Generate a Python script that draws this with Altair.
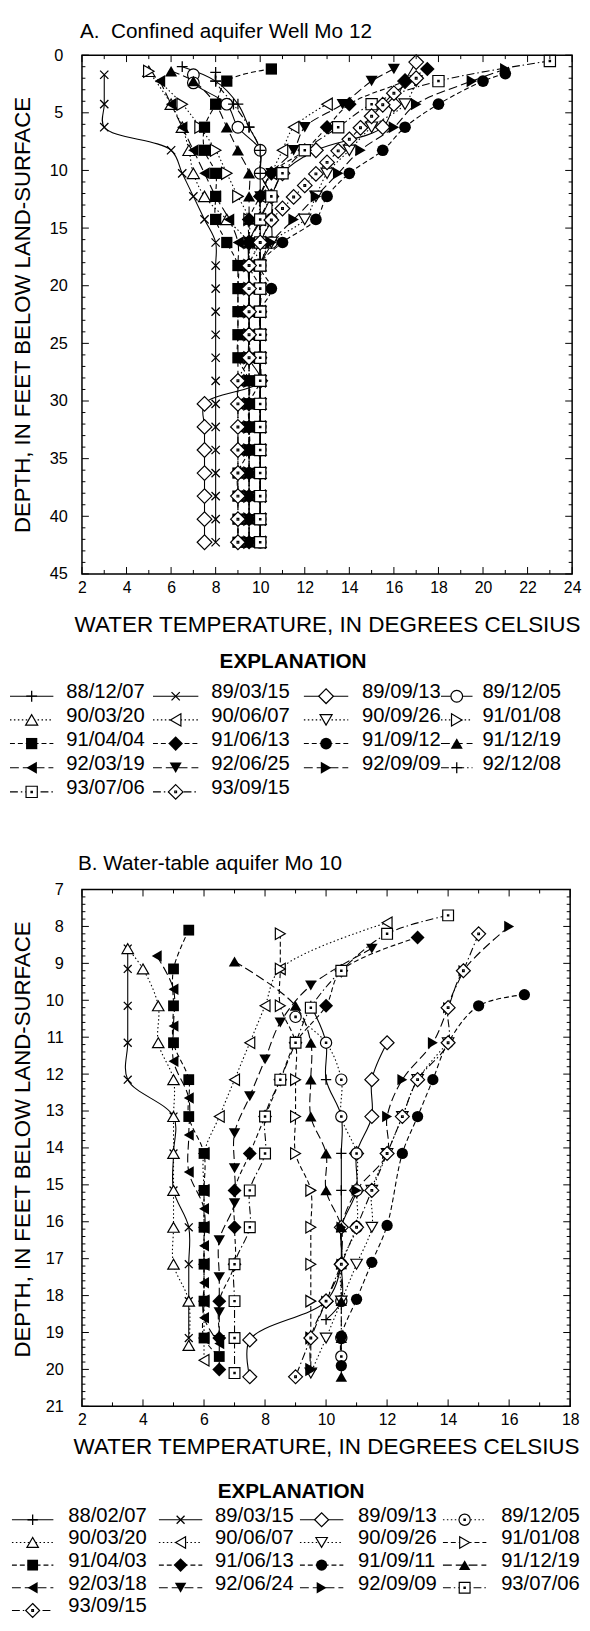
import altair as alt
import pandas as pd

FONT = "Liberation Sans"

# ===================== Panel A : Confined aquifer Well Mo 12 =====================
TITLE_A = "A.\u00a0 Confined aquifer Well Mo 12"
A_DEPTH_STD = [2.25, 4.25, 6.25, 8.25, 10.25, 12.25, 14.25, 16.25, 18.25, 20.25, 22.25,
               24.25, 26.25, 28.25, 30.25, 32.25, 34.25, 36.25, 38.25, 40.25, 42.25]

A_881207_d = [1.0] + A_DEPTH_STD
A_881207_t = [6.5, 8.0, 9.0, 9.5, 10.0, 10.0, 10.0, 10.0, 10.0, 10.0, 10.0,
              10.0, 10.0, 10.0, 10.0, 10.0, 10.0, 10.0, 10.0, 10.0, 10.0, 10.0]
A_890315_d = [1.7] + A_DEPTH_STD[1:]
A_890315_t = [3.0, 3.0, 3.0, 6.0, 6.5, 7.0, 7.5, 8.0, 8.0, 8.0, 8.0,
              8.0, 8.0, 8.0, 8.0, 8.0, 8.0, 8.0, 8.0, 8.0, 8.0]
A_890913_d = [0.6] + A_DEPTH_STD
A_890913_t = [17.0, 16.5, 16.0, 15.5, 12.5, 11.0, 10.5, 10.0, 9.5, 9.5, 9.5,
              9.5, 9.5, 9.5, 10.0, 7.5, 7.5, 7.5, 7.5, 7.5, 7.5, 7.5]
A_891205_d = [1.7, 2.4] + A_DEPTH_STD[1:]
A_891205_t = [7.0, 7.0, 8.5, 9.0, 10.0, 10.0, 10.5, 10.5, 10.5, 10.0, 10.0,
              10.0, 10.0, 10.0, 10.0, 10.0, 10.0, 10.0, 10.0, 10.0, 10.0, 10.0]
A_900320_d = [1.4] + A_DEPTH_STD[1:]
A_900320_t = [5.0, 6.0, 6.5, 6.8, 7.0, 7.5, 8.5, 9.5, 10.0, 10.0, 10.0,
              10.0, 10.0, 10.0, 10.0, 10.0, 10.0, 10.0, 10.0, 10.0, 10.0]
A_900607_d = A_DEPTH_STD[1:]
A_900607_t = [13.0, 11.5, 11.0, 10.5, 10.0, 10.0, 10.0, 10.0, 10.0, 10.0,
              10.0, 10.0, 10.0, 10.0, 10.0, 10.0, 10.0, 10.0, 10.0, 10.0]
A_900926_d = A_DEPTH_STD
A_900926_t = [17.0, 16.5, 15.0, 14.0, 13.0, 12.5, 12.0, 10.5, 10.0, 10.0, 10.0,
              10.0, 10.0, 10.0, 10.0, 10.0, 10.0, 10.0, 10.0, 10.0, 10.0]
A_910108_d = [1.4] + A_DEPTH_STD[1:]
A_910108_t = [5.0, 6.5, 7.3, 8.0, 8.5, 9.0, 9.5, 9.5, 9.5, 9.5, 9.5,
              9.5, 9.5, 9.5, 9.5, 9.5, 9.5, 9.5, 9.5, 9.5, 9.5]
A_910404_d = [1.2] + A_DEPTH_STD
A_910404_t = [10.5, 8.5, 8.0, 7.5, 7.5, 8.0, 8.0, 8.0, 8.5, 9.0, 9.0,
              9.0, 9.0, 9.0, 9.5, 9.5, 9.5, 9.5, 9.0, 9.0, 9.0, 9.0]
A_910613_d = [1.2] + A_DEPTH_STD
A_910613_t = [17.5, 16.5, 14.0, 13.0, 12.0, 10.5, 10.0, 9.5, 9.5, 9.5, 10.0,
              10.0, 10.0, 10.0, 10.0, 9.5, 9.5, 9.5, 9.5, 9.5, 9.5, 9.5]
A_910912_d = [1.6] + A_DEPTH_STD
A_910912_t = [21.0, 20.0, 18.0, 16.5, 15.5, 14.0, 13.0, 12.5, 11.0, 10.0, 10.5,
              10.0, 10.0, 10.0, 10.0, 10.0, 10.0, 10.0, 10.0, 10.0, 10.0, 10.0]
A_911219_d = [1.4] + A_DEPTH_STD
A_911219_t = [6.0, 7.0, 8.0, 8.5, 9.0, 9.5, 9.5, 9.5, 9.5, 9.5, 9.5,
              9.5, 9.5, 9.5, 9.5, 9.5, 9.5, 9.5, 9.5, 9.5, 9.5, 9.5]
A_920319_d = A_DEPTH_STD
A_920319_t = [5.5, 6.0, 6.5, 7.0, 7.5, 8.0, 8.6, 9.0, 9.0, 9.0, 9.0,
              9.0, 9.0, 9.0, 9.0, 9.0, 9.0, 9.0, 9.0, 9.0, 9.0]
A_920625_d = [1.2] + A_DEPTH_STD
A_920625_t = [16.0, 15.0, 13.7, 12.0, 11.5, 10.5, 10.0, 10.0, 9.5, 9.5, 9.5,
              9.5, 9.5, 9.5, 9.5, 9.5, 9.5, 9.5, 9.5, 9.5, 9.5, 9.5]
A_920909_d = [1.2] + A_DEPTH_STD
A_920909_t = [21.0, 19.5, 17.0, 16.0, 14.5, 13.5, 12.5, 11.5, 10.5, 10.0, 10.0,
              10.0, 10.0, 10.0, 10.0, 10.0, 10.0, 10.0, 10.0, 10.0, 10.0, 10.0]
A_921208_d = [1.5] + A_DEPTH_STD
A_921208_t = [8.0, 8.0, 8.8, 9.5, 10.0, 10.0, 10.5, 10.5, 10.0, 10.0, 10.0,
              10.0, 10.0, 10.0, 10.0, 10.0, 10.0, 10.0, 10.0, 10.0, 10.0, 10.0]
A_930706_d = [0.5] + A_DEPTH_STD
A_930706_t = [23.0, 18.0, 15.0, 13.5, 12.0, 11.0, 10.5, 10.0, 10.0, 10.0, 10.0,
              10.0, 10.0, 10.0, 10.0, 10.0, 10.0, 10.0, 10.0, 10.0, 10.0, 10.0]
A_930915_d = [2.0, 3.3, 4.3, 5.3, 6.3, 7.3, 8.3, 9.3, 10.3, 11.3, 12.3, 13.3, 14.3] + A_DEPTH_STD[7:]
A_930915_t = [17.0, 16.0, 15.5, 15.0, 14.5, 14.0, 13.5, 13.0, 12.5, 12.0, 11.5, 11.0, 10.5,
              10.0, 9.5, 9.5, 9.5, 9.5, 9.5, 9.0, 9.0, 9.0, 9.0, 9.0, 9.0, 9.0, 9.0]

A_LABELS = ["88/12/07", "89/03/15", "89/09/13", "89/12/05", "90/03/20", "90/06/07",
            "90/09/26", "91/01/08", "91/04/04", "91/06/13", "91/09/12", "91/12/19",
            "92/03/19", "92/06/25", "92/09/09", "92/12/08", "93/07/06", "93/09/15"]
A_SERIES = [(A_881207_d, A_881207_t), (A_890315_d, A_890315_t), (A_890913_d, A_890913_t),
            (A_891205_d, A_891205_t), (A_900320_d, A_900320_t), (A_900607_d, A_900607_t),
            (A_900926_d, A_900926_t), (A_910108_d, A_910108_t), (A_910404_d, A_910404_t),
            (A_910613_d, A_910613_t), (A_910912_d, A_910912_t), (A_911219_d, A_911219_t),
            (A_920319_d, A_920319_t), (A_920625_d, A_920625_t), (A_920909_d, A_920909_t),
            (A_921208_d, A_921208_t), (A_930706_d, A_930706_t), (A_930915_d, A_930915_t)]
A_SHAPES = ["plus", "x", "diamond", "circle", "tu", "tl", "td", "tr", "square", "diamond",
            "circle", "tu", "tl", "td", "tr", "plus", "sqdot", "dmdot"]
A_FILLS = ["none", "none", "white", "white", "white", "white", "white", "white", "black", "black",
           "black", "black", "black", "black", "black", "none", "white", "white"]
A_DASHES = ["solid", "solid", "solid", "solid", "dot", "dot", "dot", "dot", "dash", "dash",
            "dash", "long", "long", "long", "long", "dashdot", "dashdot", "dashdot"]

# ===================== Panel B : Water-table aquifer Mo 10 =====================
TITLE_B = "B. Water-table aquifer Mo 10"
B_880207_d = [10.15, 11.15, 12.15, 13.15, 14.15, 15.15, 16.15, 17.15, 18.15, 18.65]
B_880207_t = [9.5, 10.0, 10.0, 10.5, 10.5, 10.5, 10.5, 10.5, 10.5, 10.0]
B_890315_d = [8.6, 9.15, 10.15, 11.15, 12.15, 13.15, 14.15, 15.15, 16.15, 17.15, 18.15, 19.15]
B_890315_t = [3.5, 3.5, 3.5, 3.5, 3.5, 5.0, 5.0, 5.0, 5.5, 5.5, 5.5, 5.5]
B_890913_d = [11.15, 12.15, 13.15, 14.15, 15.15, 16.15, 17.15, 18.15, 19.2, 20.2]
B_890913_t = [12.0, 11.5, 11.5, 11.0, 11.0, 10.5, 10.5, 10.0, 7.5, 7.5]
B_891205_d = [10.45, 11.15, 12.15, 13.15, 14.15, 15.15, 16.15, 17.15, 18.15, 19.15, 19.65]
B_891205_t = [9.0, 10.0, 10.5, 10.5, 11.0, 11.0, 11.0, 10.5, 10.5, 10.5, 10.5]
B_900320_d = [8.6, 9.15, 10.15, 11.15, 12.15, 13.15, 14.15, 15.15, 16.15, 17.15, 18.15, 19.35]
B_900320_t = [3.5, 4.0, 4.5, 4.5, 5.0, 5.0, 5.0, 5.0, 5.0, 5.0, 5.5, 5.5]
B_900607_d = [7.9, 9.15, 10.15, 11.15, 12.15, 13.15, 14.15, 15.15, 16.15, 17.15, 18.15, 19.15, 19.75]
B_900607_t = [12.0, 8.5, 8.0, 7.5, 7.0, 6.5, 6.0, 6.0, 6.0, 6.0, 6.0, 6.0, 6.0]
B_900926_d = [11.15, 12.15, 13.15, 14.15, 15.15, 16.15, 17.15, 18.15, 19.15, 20.1]
B_900926_t = [14.0, 13.0, 12.5, 12.0, 11.5, 11.5, 11.0, 10.5, 10.0, 9.5]
B_910108_d = [8.2, 9.15, 10.15, 11.15, 12.15, 13.15, 14.15, 15.15, 16.15, 17.15, 18.15, 19.15, 20.0]
B_910108_t = [8.5, 8.5, 8.5, 9.0, 9.0, 9.0, 9.0, 9.5, 9.5, 9.5, 9.5, 9.5, 9.5]
B_910403_d = [8.1, 9.15, 10.15, 11.15, 12.15, 13.15, 14.15, 15.15, 16.15, 17.15, 18.15, 19.15, 19.65]
B_910403_t = [5.5, 5.0, 5.0, 5.0, 5.5, 5.5, 6.0, 6.0, 6.0, 6.0, 6.0, 6.0, 6.5]
B_910613_d = [8.3, 9.2, 10.15, 11.15, 12.15, 13.15, 14.15, 15.15, 16.15, 17.15, 18.15, 19.15, 20.0]
B_910613_t = [13.0, 10.5, 10.0, 9.0, 8.5, 8.0, 7.5, 7.0, 7.0, 7.0, 6.5, 6.5, 6.5]
B_910911_d = [9.85, 10.15, 11.15, 12.15, 13.15, 14.15, 16.1, 17.1, 18.1, 19.1, 19.9]
B_910911_t = [16.5, 15.0, 14.0, 13.5, 13.0, 12.5, 12.0, 11.5, 11.0, 10.5, 10.5]
B_911219_d = [8.95, 10.15, 11.15, 12.15, 13.15, 14.15, 15.15, 16.15, 17.15, 18.15, 19.15, 20.2]
B_911219_t = [7.0, 9.0, 9.5, 9.5, 9.5, 10.0, 10.0, 10.5, 10.5, 10.5, 10.5, 10.5]
B_920318_d = [8.8, 9.7, 10.7, 11.65, 12.65, 13.65, 14.65, 15.65, 16.65, 17.65, 18.6, 19.3]
B_920318_t = [4.45, 5.0, 5.0, 5.0, 5.5, 5.5, 5.5, 6.0, 6.0, 6.0, 6.0, 6.5]
B_920624_d = [8.6, 9.6, 10.6, 11.6, 12.6, 13.6, 14.55, 15.5, 16.5, 17.5, 18.45, 19.2]
B_920624_t = [11.5, 9.5, 8.5, 8.0, 7.5, 7.0, 7.0, 7.0, 6.5, 6.5, 6.5, 6.5]
B_920909_d = [8.0, 9.2, 10.2, 11.15, 12.15, 13.15, 14.15, 15.15, 16.15, 17.15, 18.15, 19.15, 20.0]
B_920909_t = [16.0, 14.5, 14.0, 13.5, 12.5, 12.0, 12.0, 11.0, 10.5, 10.5, 10.0, 9.5, 9.5]
B_930706_d = [7.7, 8.2, 9.2, 10.2, 11.15, 12.15, 13.15, 14.15, 15.15, 16.15, 17.15, 18.15, 19.15, 20.1]
B_930706_t = [14.0, 12.0, 10.5, 9.5, 9.0, 8.5, 8.0, 8.0, 7.5, 7.5, 7.0, 7.0, 7.0, 7.0]
B_930915_d = [8.2, 9.2, 10.2, 11.15, 12.15, 13.15, 14.15, 15.15, 16.15, 17.15, 18.15, 19.15, 20.2]
B_930915_t = [15.0, 14.5, 14.0, 14.0, 13.0, 12.5, 12.0, 11.5, 11.0, 10.5, 10.0, 9.5, 9.0]

B_LABELS = ["88/02/07", "89/03/15", "89/09/13", "89/12/05", "90/03/20", "90/06/07",
            "90/09/26", "91/01/08", "91/04/03", "91/06/13", "91/09/11", "91/12/19",
            "92/03/18", "92/06/24", "92/09/09", "93/07/06", "93/09/15"]
B_SERIES = [(B_880207_d, B_880207_t), (B_890315_d, B_890315_t), (B_890913_d, B_890913_t),
            (B_891205_d, B_891205_t), (B_900320_d, B_900320_t), (B_900607_d, B_900607_t),
            (B_900926_d, B_900926_t), (B_910108_d, B_910108_t), (B_910403_d, B_910403_t),
            (B_910613_d, B_910613_t), (B_910911_d, B_910911_t), (B_911219_d, B_911219_t),
            (B_920318_d, B_920318_t), (B_920624_d, B_920624_t), (B_920909_d, B_920909_t),
            (B_930706_d, B_930706_t), (B_930915_d, B_930915_t)]
B_SHAPES = ["plus", "x", "diamond", "cdot", "tu", "tl", "td", "tr", "square", "diamond",
            "circle", "tu", "tl", "td", "tr", "sqdot", "dmdot"]
B_FILLS = ["none", "none", "white", "white", "white", "white", "white", "white", "black", "black",
           "black", "black", "black", "black", "black", "white", "white"]
B_DASHES = ["solid", "solid", "solid", "dot", "dot", "dot", "dot", "dash", "dash", "dash",
            "dash", "long", "long", "long", "long", "dashdot", "dashdot"]

# ===================== styles / layout =====================
SHAPE_PATH = {
    "plus": "M-1,0L1,0M0,-1L0,1",
    "x": "M-0.8,-0.8L0.8,0.8M-0.8,0.8L0.8,-0.8",
    "diamond": "diamond", "circle": "circle", "square": "square",
    "tu": "triangle-up", "td": "triangle-down", "tl": "triangle-left", "tr": "triangle-right",
    "sqdot": "M-1,-1L1,-1L1,1L-1,1Z M-0.12,-0.12L0.12,-0.12L0.12,0.12L-0.12,0.12Z",
    "dmdot": "M0,-1L1,0L0,1L-1,0Z M-0.12,-0.12L0.12,-0.12L0.12,0.12L-0.12,0.12Z",
    "cdot": "M-1,0A1,1,0,1,1,1,0A1,1,0,1,1,-1,0Z M-0.12,-0.12L0.12,-0.12L0.12,0.12L-0.12,0.12Z",
}
SIZE_A = {"plus": 120, "x": 110, "diamond": 220, "circle": 140, "square": 130, "tu": 150,
          "td": 150, "tl": 150, "tr": 150, "sqdot": 130, "dmdot": 220, "cdot": 140}
SIZE_B = {"plus": 110, "x": 100, "diamond": 200, "circle": 130, "square": 120, "tu": 135,
          "td": 135, "tl": 135, "tr": 135, "sqdot": 120, "dmdot": 200, "cdot": 130}
DASH = {"solid": None, "dot": [1.5, 2.5], "dash": [5, 3], "long": [9, 4], "dashdot": [8, 3, 1.5, 3]}

WA, HA = 497, 526
WB, HB = 495, 524


def line_kwargs(dash):
    kw = dict(color="black", strokeWidth=1.1)
    if DASH[dash] is not None:
        kw["strokeDash"] = DASH[dash]
    return kw


def point_kwargs(shape, fill, sizes):
    kw = dict(shape=SHAPE_PATH[shape], size=sizes[shape], opacity=1)
    if fill == "none":
        kw.update(filled=False, color="black", strokeWidth=1.3)
    elif fill == "white":
        kw.update(filled=True, fill="white", stroke="black", strokeWidth=1.2)
    else:
        kw.update(filled=True, color="black")
    return kw


def build_panel(series, shapes, fills, dashes, sizes, xdom, ydom, xvals, yvals,
                xminor, yminor, W, H, title, tdx, tdy, xlabpad, xtitley, ylabpad, ylabalign,
                ytitley):
    xs = alt.Scale(domain=xdom, nice=False, zero=False)
    ys = alt.Scale(domain=ydom, reverse=True, nice=False, zero=False)
    xax = alt.Axis(values=xvals, title="WATER TEMPERATURE, IN DEGREES CELSIUS", grid=False,
                   domain=False, ticks=False, labelFontSize=16, labelPadding=xlabpad,
                   labelFlush=False, labelOverlap=False, labelColor="black", labelFont=FONT,
                   titleFont=FONT, titleFontSize=22.8, titleFontWeight="normal", titleColor="black",
                   titleY=xtitley, titleBaseline="middle")
    yax = alt.Axis(values=yvals, title="DEPTH, IN FEET BELOW LAND-SURFACE", grid=False,
                   domain=False, ticks=False, labelFontSize=16.5, labelPadding=ylabpad,
                   labelAlign=ylabalign,
                   labelFlush=False, labelOverlap=False, labelColor="black", labelFont=FONT,
                   titleFont=FONT, titleFontSize=22.5, titleFontWeight="normal", titleColor="black",
                   titleAngle=270, titleX=-60.5, titleY=ytitley, titleBaseline="middle",
                   titleAlign="center")
    X = alt.X("temp:Q", scale=xs, axis=xax)
    Y = alt.Y("depth:Q", scale=ys, axis=yax)
    lines, points = [], []
    for (d, t), sh, fl, ds in zip(series, shapes, fills, dashes):
        assert len(d) == len(t)
        df = pd.DataFrame({"depth": d, "temp": t})
        base = alt.Chart(df).encode(x=X, y=Y)
        lines.append(base.mark_line(interpolate="catmull-rom", **line_kwargs(ds))
                     .encode(order=alt.Order("depth:Q")))
        points.append(base.mark_point(**point_kwargs(sh, fl, sizes)))
    ticks = []
    for vals, ln in ((xvals, 7), (xminor, 4)):
        c = alt.Chart(pd.DataFrame({"temp": vals})).mark_rule(color="black", strokeWidth=1)
        ticks.append(c.encode(x=X, y=alt.value(0), y2=alt.value(ln)))
        ticks.append(c.encode(x=X, y=alt.value(H), y2=alt.value(H - ln)))
    for vals, ln in ((yvals, 7), (yminor, 3.5)):
        c = alt.Chart(pd.DataFrame({"depth": vals})).mark_rule(color="black", strokeWidth=1)
        ticks.append(c.encode(y=Y, x=alt.value(0), x2=alt.value(ln)))
        ticks.append(c.encode(y=Y, x=alt.value(W), x2=alt.value(W - ln)))
    ttl = alt.Chart(pd.DataFrame({"t": [title]})).mark_text(
        align="left", baseline="middle", fontSize=21, font=FONT, color="black"
    ).encode(text="t:N", x=alt.value(tdx), y=alt.value(tdy))
    return alt.layer(*lines, *points, *ticks, ttl).properties(width=W, height=H)


def build_legend(labels, shapes, fills, dashes, sizes, sym_x, text_x, row_y, head_x, head_y, W, H):
    layers = [alt.Chart(pd.DataFrame({"t": ["EXPLANATION"]})).mark_text(
        align="center", baseline="middle", fontSize=21, fontWeight="bold", font=FONT, color="black"
    ).encode(text="t:N", x=alt.value(head_x), y=alt.value(head_y))]
    for i, (lab, sh, fl, ds) in enumerate(zip(labels, shapes, fills, dashes)):
        c, r = i % 4, i // 4
        row = pd.DataFrame({"label": [lab], "xs": [sym_x[c][0]], "xe": [sym_x[c][1]],
                            "xm": [(sym_x[c][0] + sym_x[c][1]) / 2], "xt": [text_x[c]],
                            "ys": [row_y[r] + 4], "yt": [row_y[r]]})
        base = alt.Chart(row)
        layers.append(base.mark_rule(**line_kwargs(ds)).encode(
            x=alt.X("xs:Q", scale=None, axis=None), x2="xe:Q",
            y=alt.Y("ys:Q", scale=None, axis=None)))
        layers.append(base.mark_point(**point_kwargs(sh, fl, sizes)).encode(
            x=alt.X("xm:Q", scale=None, axis=None), y=alt.Y("ys:Q", scale=None, axis=None)))
        layers.append(base.mark_text(align="left", baseline="middle", fontSize=20.5, font=FONT,
                                     color="black").encode(
            x=alt.X("xt:Q", scale=None, axis=None), y=alt.Y("yt:Q", scale=None, axis=None),
            text="label:N"))
    return alt.layer(*layers).properties(width=W, height=H,
                                         view=alt.ViewBackground(stroke="transparent"))


panelA = build_panel(A_SERIES, A_SHAPES, A_FILLS, A_DASHES, SIZE_A, [2, 24], [0, 45],
                     list(range(2, 25, 2)), list(range(0, 46, 5)),
                     list(range(3, 24, 2)), [v for v in range(1, 45) if v % 5],
                     WA, HA, TITLE_A, -2, -23, 6, 51, 24, "center", HA / 2)
legendA = build_legend(A_LABELS, A_SHAPES, A_FILLS, A_DASHES, SIZE_A,
                       [(-73, -29), (72, 118), (225, 270), (364, 396)],
                       [-16, 131, 284, 406], [55, 79, 103, 127.5, 152], 214, 24, WA, 215.5)
panelB = build_panel(B_SERIES, B_SHAPES, B_FILLS, B_DASHES, SIZE_B, [2, 18], [7, 21],
                     list(range(2, 19, 2)), list(range(7, 22)),
                     list(range(3, 18, 2)), [round(7 + 0.2 * k, 1) for k in range(71) if k % 5],
                     WB, HB, TITLE_B, -4, -26, 5, 41, 19, "right", HB / 2 - 9)
legendB = build_legend(B_LABELS, B_SHAPES, B_FILLS, B_DASHES, SIZE_B,
                       [(-71, -29), (78, 122), (221, 265), (366, 410)],
                       [-14, 135, 280, 425], [56, 79, 102, 125, 148], 212, 32, WB, 157)

chart = alt.vconcat(panelA, legendA, panelB, legendB, spacing=0).properties(
    padding={"left": 0, "top": 1.5, "right": 0, "bottom": 0}
).configure(font=FONT).configure_view(stroke="black", strokeWidth=1.5)

chart.save("out.html", embed_options={"renderer": "svg", "actions": False})
